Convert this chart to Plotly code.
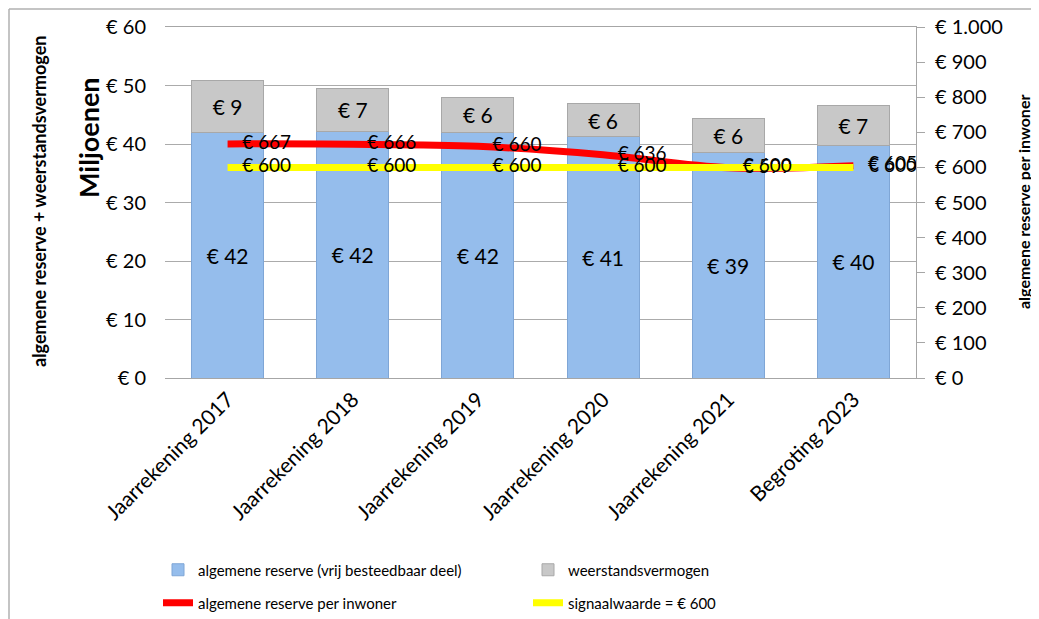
import plotly.graph_objects as go

categories = ["Jaarrekening 2017", "Jaarrekening 2018", "Jaarrekening 2019",
              "Jaarrekening 2020", "Jaarrekening 2021", "Begroting 2023"]
algemene_reserve = [41.9, 42.2, 42.0, 41.2, 38.6, 39.8]
weerstandsvermogen = [9.0, 7.3, 6.0, 5.8, 5.8, 6.7]
reserve_per_inwoner = [667, 666, 660, 636, 599, 605]
signaalwaarde = [600, 600, 600, 600, 600, 600]

FONT = "Lato"
PAD = "\u00a0\u00a0\u00a0"

fig = go.Figure()
fig.add_trace(go.Bar(
    x=categories, y=algemene_reserve, name="algemene reserve (vrij besteedbaar deel)",
    marker=dict(color="#95BDEC", line=dict(color="#7FA6D6", width=1)),
    texttemplate="€ %{y:.0f}", textposition="inside", insidetextanchor="middle",
    textfont=dict(size=21, color="black", family=FONT), width=0.575,
    legend="legend", yaxis="y"))
fig.add_trace(go.Bar(
    x=categories, y=weerstandsvermogen, name="weerstandsvermogen",
    marker=dict(color="#C8C8C8", line=dict(color="#A8A8A8", width=1)),
    texttemplate="€ %{y:.0f}", textposition="inside", insidetextanchor="middle",
    textfont=dict(size=21, color="black", family=FONT), width=0.575,
    legend="legend", yaxis="y"))
fig.add_trace(go.Scatter(
    x=categories, y=reserve_per_inwoner, name="algemene reserve per inwoner",
    mode="lines+text", line=dict(color="#FF0000", width=7, shape="spline"),
    text=[f"{PAD}€ {v}" for v in reserve_per_inwoner], textposition="middle right",
    textfont=dict(size=19, color="black", family=FONT),
    yaxis="y2", legend="legend2"))
fig.add_trace(go.Scatter(
    x=categories, y=signaalwaarde, name="signaalwaarde = € 600",
    mode="lines+text", line=dict(color="#FFFF00", width=7),
    text=[f"{PAD}€ {v}" for v in signaalwaarde], textposition="middle right",
    textfont=dict(size=19, color="black", family=FONT),
    yaxis="y2", legend="legend2"))

# page body has an 8px margin: work in reference pixels, shift by OFF
OFF = 8
W, H = 1039 - OFF, 619 - OFF
L, T = 165 - OFF, 27 - OFF
R = W - (916 - OFF)
B = H - (378 - OFF)
pw, ph = W - L - R, H - T - B

def px(x):
    return (x - OFF - L) / pw

def py(y):
    return (H - B - (y - OFF)) / ph

fig.update_layout(
    width=W, height=H, barmode="stack", separators=",.",
    margin=dict(l=L, r=R, t=T, b=B, autoexpand=False),
    paper_bgcolor="white", plot_bgcolor="white",
    font=dict(family=FONT, color="black"),
    xaxis=dict(tickangle=-45, tickfont=dict(size=21), showline=True,
               linecolor="#A6A6A6", mirror=True, ticks="", showgrid=False),
    yaxis=dict(range=[0, 60], dtick=10, tickprefix="€ ", tickfont=dict(size=20),
               showgrid=True, gridcolor="#ABABAB", gridwidth=1, zeroline=False,
               ticklabelstandoff=18),
    yaxis2=dict(range=[0, 1000], dtick=100, tickprefix="€ ", tickformat=",d",
                overlaying="y", side="right", showgrid=False, zeroline=False,
                showline=True, linecolor="#A6A6A6", ticks="outside", ticklen=8,
                tickcolor="#A6A6A6", tickfont=dict(size=20), ticklabelstandoff=6),
    legend=dict(orientation="h", x=px(158), y=py(570), xanchor="left", yanchor="middle",
                entrywidth=325, entrywidthmode="pixels", font=dict(size=15),
                traceorder="normal", itemwidth=30, bgcolor="rgba(0,0,0,0)"),
    legend2=dict(orientation="h", x=px(158), y=py(603), xanchor="left", yanchor="middle",
                 entrywidth=325, entrywidthmode="pixels", font=dict(size=15),
                 traceorder="normal", itemwidth=30, bgcolor="rgba(0,0,0,0)"),
    showlegend=True,
    annotations=[
        dict(text="<b>algemene reserve + weerstandsvermogen</b>",
             textangle=-90, x=px(39), y=py(202), xref="paper", yref="paper",
             xanchor="center", yanchor="middle",
             showarrow=False, font=dict(size=18)),
        dict(text="<b>Miljoenen</b>",
             textangle=-90, x=px(88), y=py(138), xref="paper", yref="paper",
             xanchor="center", yanchor="middle",
             showarrow=False, font=dict(size=27)),
        dict(text="<b>algemene reserve per inwoner</b>",
             textangle=-90, x=px(1023), y=py(202), xref="paper", yref="paper",
             xanchor="center", yanchor="middle",
             showarrow=False, font=dict(size=16)),
    ],
    shapes=[
        dict(type="line", xref="paper", yref="paper", x0=px(9), x1=px(9),
             y0=py(9), y1=py(619), line=dict(color="#B0B0B0", width=1.5)),
        dict(type="line", xref="paper", yref="paper", x0=px(9), x1=px(1039),
             y0=py(9), y1=py(9), line=dict(color="#B0B0B0", width=1.5)),
    ],
)

fig.write_html("out.html")
